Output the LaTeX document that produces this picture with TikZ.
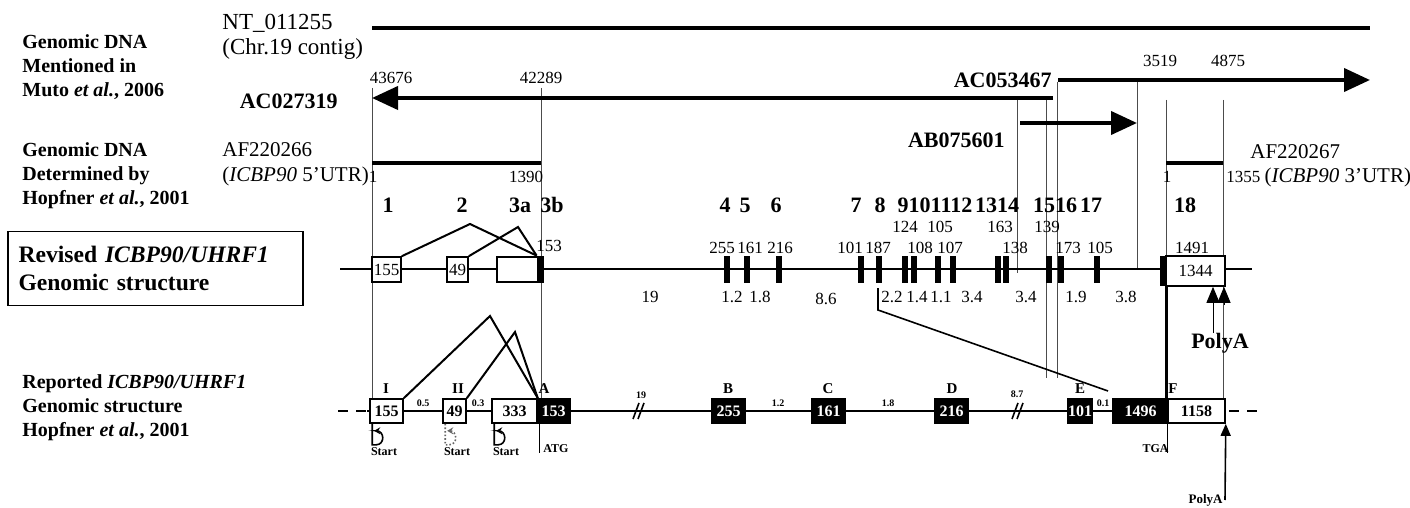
\documentclass[tikz,border=0pt]{standalone}
\usepackage{fontspec}
\setmainfont{Liberation Serif}
\usetikzlibrary{arrows.meta}
\newcommand{\fsz}[2]{\fontsize{#1}{#2}\selectfont}
\tikzset{
  sidelbl/.style={anchor=west,align=left,inner sep=0pt,font=\fsz{10}{12}\bfseries},
  acclbl/.style={inner sep=0pt,font=\fsz{11}{12}\bfseries},
  txtlbl/.style={inner sep=0pt,font=\fsz{10.5}{12.5}},
  numlbl/.style={inner sep=0pt,font=\fsz{8.5}{10}},
  exno/.style={inner sep=0pt,font=\fsz{11}{12}\bfseries},
  trackline/.style={line width=2pt},
  guideline/.style={line width=0.35pt,black!70},
  bigarrow/.style={-{Triangle[length=13pt,width=11.5pt]},line width=2pt},
  ebox/.style={draw,line width=0.8pt,fill=white,inner sep=0pt,minimum height=12.5pt,font=\fsz{8.5}{10}},
  ebar/.style={fill=black,inner sep=0pt,minimum width=3pt,minimum height=13.5pt},
  rbox/.style={draw,line width=0.8pt,fill=white,inner sep=0pt,minimum height=12pt,font=\fsz{8}{9}\bfseries},
  rblk/.style={rbox,fill=black,text=white},
  rtag/.style={inner sep=0pt,font=\fsz{7.5}{8}\bfseries},
  rsmall/.style={inner sep=0pt,font=\fsz{5}{6}\bfseries},
  rnote/.style={inner sep=0pt,font=\fsz{6}{7}\bfseries},
  startmark/.style={line width=0.8pt,-{Stealth[length=3pt,width=3.5pt]}},
}
\begin{document}
\begin{tikzpicture}[x=0.5pt,y=-0.5pt]
\useasboundingbox (0,0) rectangle (1410,508);

% captions on the left
\node[sidelbl] (capa) at (22,67) {Genomic DNA\\Mentioned in\\Muto \textit{et al.}, 2006};
\node[sidelbl] (capb) at (22,176) {Genomic DNA\\Determined by\\Hopfner \textit{et al.}, 2001};
\node[draw,line width=0.8pt,minimum width=147.5pt,minimum height=37pt,text width=137pt,inner xsep=5pt,align=left,font=\fsz{11.8}{14}\bfseries] (capr) at (155.5,268.5) {Revised \textit{ICBP90/UHRF1}\\Genomic structure};
\node[sidelbl] (capp) at (22,408) {Reported \textit{ICBP90/UHRF1}\\Genomic structure\\Hopfner \textit{et al.}, 2001};

% guide lines
\draw[guideline] (372,88) -- (372,398);
\draw[guideline] (541,88) -- (541,398);
\draw[guideline] (1017,100) -- (1017,273);
\draw[guideline] (1046,100) -- (1046,378);
\draw[guideline] (1057,82) -- (1057,378);
\draw[guideline] (1137,82) -- (1137,269);
\draw[guideline] (1166,100) -- (1166,257);
\draw[guideline] (1223,100) -- (1223,398);

% genomic contigs
\node[txtlbl,anchor=west,align=left,font=\fsz{11.5}{12.5}] (nt) at (222,37) {NT\_011255\\(Chr.19 contig)};
\draw[trackline] (372,28) -- (1370,28);
\node[acclbl,anchor=east] (ac1) at (338,101) {AC027319};
\draw[bigarrow] (1053,98) -- (372,98);
\node[numlbl] (c1a) at (391,78) {43676};
\node[numlbl] (c1b) at (541,78) {42289};
\node[acclbl,anchor=east] (ac2) at (1052,80) {AC053467};
\draw[bigarrow] (1058,80) -- (1370,80);
\node[numlbl] (c2a) at (1160,61) {3519};
\node[numlbl] (c2b) at (1228,61) {4875};
\node[acclbl,anchor=east] (ab) at (1005,140) {AB075601};
\draw[bigarrow] (1020,123) -- (1137,123);

% UTR clones
\node[txtlbl,anchor=west,align=left] (af1) at (222,164) {AF220266\\(\textit{ICBP90} 5’UTR)};
\draw[trackline] (372,163) -- (541,163);
\node[numlbl] (af1a) at (373,177) {1};
\node[numlbl] (af1b) at (526,177) {1390};
\node[txtlbl,anchor=west] (af2) at (1250,152) {AF220267};
\draw[trackline] (1166,163) -- (1223,163);
\node[numlbl] (af2a) at (1167,177) {1};
\node[numlbl,anchor=west] (af2b) at (1226,177) {1355 \fsz{10.5}{12}(\textit{ICBP90} 3’UTR)};

% exon numbers
\node[exno] (x1) at (388,205) {1};
\node[exno] (x2) at (462,205) {2};
\node[exno] (x3a) at (520,205) {3a};
\node[exno] (x3b) at (552,205) {3b};
\node[exno] (x4) at (725,205) {4};
\node[exno] (x5) at (745,205) {5};
\node[exno] (x6) at (776,205) {6};
\node[exno] (x7) at (856,205) {7};
\node[exno] (x8) at (880,205) {8};
\node[exno] (x9) at (935,205) {9101112};
\node[exno] (x13) at (997,205) {1314};
\node[exno] (x15) at (1055,205) {1516};
\node[exno] (x17) at (1091,205) {17};
\node[exno] (x18) at (1185,205) {18};

% revised structure
\draw[line width=1pt] (340,269) -- (1252,269);
\node[ebox,minimum width=14.5pt] (r1) at (386.5,269.5) {155};
\node[ebox,minimum width=10.5pt] (r2) at (457.5,269.5) {49};
\node[ebox,minimum width=20.5pt] (r3a) at (517.5,269.5) {};
\node[ebar,minimum width=3.5pt] (r3b) at (540.5,269.5) {};
\node[ebar] (r4) at (727,269.5) {};
\node[ebar] (r5) at (747,269.5) {};
\node[ebar] (r6) at (779,269.5) {};
\node[ebar] (r7) at (861,269.5) {};
\node[ebar] (r8) at (879,269.5) {};
\node[ebar] (r9) at (905,269.5) {};
\node[ebar] (r10) at (914,269.5) {};
\node[ebar] (r11) at (938,269.5) {};
\node[ebar] (r12) at (953,269.5) {};
\node[ebar] (r13) at (998,269.5) {};
\node[ebar] (r14) at (1006,269.5) {};
\node[ebar] (r15) at (1049,269.5) {};
\node[ebar] (r16) at (1061,269.5) {};
\node[ebar] (r17) at (1097,269.5) {};
\node[ebox,minimum width=29.5pt,minimum height=15pt] (r18) at (1195.5,271) {1344};
\node[ebar,minimum height=15pt] (r18a) at (1163,271) {};
\coordinate (ra) at (470,224);
\coordinate (rb) at (518,227);
\draw[line width=1pt] (r1.north east) -- (ra) -- (r3b.north west);
\draw[line width=1pt] (r2.north east) -- (rb) -- (r3b.north west);

% exon sizes
\node[numlbl] (s3b) at (549,246) {153};
\node[numlbl] (s4) at (722,248) {255};
\node[numlbl] (s5) at (750,248) {161};
\node[numlbl] (s6) at (780,248) {216};
\node[numlbl] (s7) at (850,248) {101};
\node[numlbl] (s8) at (878,248) {187};
\node[numlbl] (s9) at (905,227) {124};
\node[numlbl] (s10) at (920,248) {108};
\node[numlbl] (s11) at (940,227) {105};
\node[numlbl] (s12) at (950,248) {107};
\node[numlbl] (s13) at (1000,227) {163};
\node[numlbl] (s14) at (1015,248) {138};
\node[numlbl] (s15) at (1047,227) {139};
\node[numlbl] (s16) at (1068,248) {173};
\node[numlbl] (s17) at (1100,248) {105};
\node[numlbl] (s18) at (1192,248) {1491};

% intron sizes (kb)
\node[numlbl] (i2) at (650,297) {19};
\node[numlbl] (i4) at (732,297) {1.2};
\node[numlbl] (i5) at (760,297) {1.8};
\node[numlbl] (i6) at (826,299) {8.6};
\node[numlbl] (i8) at (892,297) {2.2};
\node[numlbl] (i9) at (917,297) {1.4};
\node[numlbl] (i11) at (941,297) {1.1};
\node[numlbl] (i12) at (972,297) {3.4};
\node[numlbl] (i14) at (1026,297) {3.4};
\node[numlbl] (i16) at (1076,297) {1.9};
\node[numlbl] (i17) at (1126,297) {3.8};

% poly A sites (revised)
\draw[line width=0.5pt,-{Triangle[length=8pt,width=6.5pt]}] (1213,333) -- (r18.south -| 1213,0);
\draw[line width=0.5pt,-{Triangle[length=8pt,width=6.5pt]}] (1224,305) -- (r18.south -| 1224,0);
\node[inner sep=0pt,font=\fsz{11}{12}\bfseries] (pa1) at (1220,343) {PolyA};

% reported structure
\draw[line width=1pt] (367,411) -- (1226,411);
\draw[line width=1pt,dash pattern=on 5pt off 4pt] (338,411) -- (367,411);
\draw[line width=1pt,dash pattern=on 5pt off 4pt] (1229,411) -- (1262,411);
\draw[line width=0.8pt] (633,419) -- (639,403) (638,419) -- (644,403);
\draw[line width=0.8pt] (1012,419) -- (1018,403) (1017,419) -- (1023,403);
\node[rbox,minimum width=16.5pt] (p1) at (386.5,411) {155};
\node[rbox,minimum width=11.5pt] (p2) at (454.5,411) {49};
\node[rbox,minimum width=22.5pt] (p3) at (514.5,411) {333};
\node[rblk,minimum width=16.5pt] (pA) at (553.5,411) {153};
\node[rblk,minimum width=16.5pt] (pB) at (728.5,411) {255};
\node[rblk,minimum width=16.5pt] (pC) at (828.5,411) {161};
\node[rblk,minimum width=16.5pt] (pD) at (951.5,411) {216};
\node[rblk,minimum width=12pt] (pE) at (1080,411) {101};
\node[rblk,minimum width=27.5pt] (pF1) at (1140.5,411) {1496};
\node[rbox,minimum width=28.5pt] (pF2) at (1196.5,411) {1158};
\coordinate (pa) at (490,316);
\coordinate (pb) at (515,332);
\draw[line width=1pt] (p1.north east) -- (pa) -- (p3.north east);
\draw[line width=1pt] (p2.north east) -- (pb) -- (p3.north east);

% exon letters and intron sizes (reported)
\node[rtag] (tI) at (386,389) {I};
\node[rtag] (tII) at (458,389) {II};
\node[rtag] (tA) at (544,389) {A};
\node[rtag] (tB) at (728,389) {B};
\node[rtag] (tC) at (828,389) {C};
\node[rtag] (tD) at (952,389) {D};
\node[rtag] (tE) at (1080,389) {E};
\node[rtag] (tF) at (1173,389) {F};
\node[rsmall] (k1) at (423,403) {0.5};
\node[rsmall] (k2) at (478,403) {0.3};
\node[rsmall] (k3) at (641,395) {19};
\node[rsmall] (k4) at (778,403) {1.2};
\node[rsmall] (k5) at (888,403) {1.8};
\node[rsmall] (k6) at (1017,394) {8.7};
\node[rsmall] (k7) at (1103,403) {0.1};

% link from revised to reported
\coordinate (dt) at (878,288);
\coordinate (dm) at (878,310);
\coordinate (de) at (1108,391);
\draw[line width=0.8pt] (dt) -- (dm) -- (de);
\draw[line width=1.2pt] (r18a.south east) -- (r18a.south east |- pF1.north);

% start, stop and poly A marks
\draw[startmark] (p1.south west) ++(3,0) -- ++(0,21) -- ++(4,0) to[out=0,in=0,looseness=1.6] ++(0,-14) -- ++(-2,0);
\draw[startmark,densely dotted,black!60] (p2.south west) ++(3,0) -- ++(0,21) -- ++(4,0) to[out=0,in=0,looseness=1.6] ++(0,-14) -- ++(-2,0);
\draw[startmark] (p3.south west) ++(3,0) -- ++(0,21) -- ++(4,0) to[out=0,in=0,looseness=1.6] ++(0,-14) -- ++(-2,0);
\node[rnote] (st1) at (384,452) {Start};
\node[rnote] (st2) at (457,452) {Start};
\node[rnote] (st3) at (506,452) {Start};
\draw[line width=0.6pt] (pA.south west) ++(3,0) -- ++(0,29);
\node[rnote,anchor=west] (atg) at (543,449) {ATG};
\draw[line width=0.6pt] (pF2.south west) -- ++(0,29);
\node[rnote,anchor=east] (tga) at (1169,449) {TGA};
\draw[line width=0.8pt,-{Triangle[length=6pt,width=5pt]}] (1225,500) -- (pF2.south east);
\node[rnote,anchor=east,font=\fsz{6.5}{7}\bfseries] (pa2) at (1223,500) {PolyA};
\end{tikzpicture}
\end{document}
